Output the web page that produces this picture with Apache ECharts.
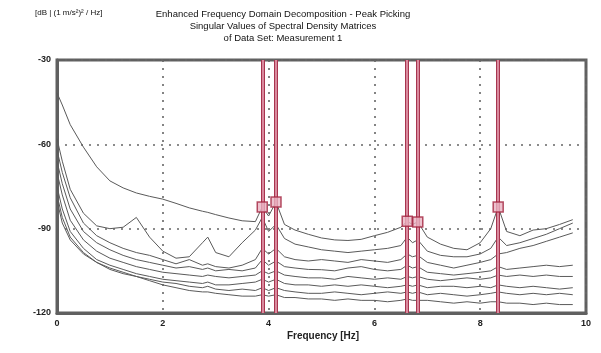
<!DOCTYPE html>
<html>
<head>
<meta charset="utf-8">
<style>
  html, body { margin: 0; padding: 0; background: #fff; }
  #chart { width: 601px; height: 353px; }
</style>
<script src="https://cdn.jsdelivr.net/npm/echarts@6/dist/echarts.min.js"></script>
</head>
<body>
<div id="chart"></div>
<script>
// frequency grid [Hz]
const freq = [0, 0.1, 0.25, 0.5, 0.75, 1, 1.25, 1.5, 1.75, 2, 2.25, 2.5, 2.75, 2.85, 3, 3.25, 3.5, 3.75, 3.88, 4,
  4.14, 4.3, 4.5, 4.75, 5, 5.25, 5.5, 5.75, 6, 6.25, 6.5, 6.62, 6.72, 6.82, 7, 7.25, 7.5, 7.75, 8, 8.2,
  8.34, 8.5, 8.75, 9, 9.25, 9.5, 9.75];

// singular values [dB]
const sv1 = [-41.7, -46, -53, -61, -68, -73, -75.5, -77.3, -78.5, -79.5, -81, -82.6, -83.8, -84.2, -85, -86.2, -87.2, -87.5, -82.3, -85.5,
  -80.5, -88.5, -90.5, -92, -93.3, -94, -94.2, -93.8, -92.5, -91.3, -89.5, -87.4, -88.5, -87.6, -93, -95.5, -97, -97.5, -95, -90,
  -82.3, -91, -92.5, -90.5, -90, -88.5, -86.8];
const sv2 = [-58, -66, -76, -84.5, -89, -90, -89.5, -86, -93, -98, -100.5, -100, -95, -93, -98.5, -100, -95, -90.5, -86, -91,
  -88.5, -93.5, -95.5, -96.5, -97.5, -98, -98.5, -98, -97.5, -97, -96, -93, -95, -94, -98, -99.5, -100, -100, -99, -97,
  -93, -96, -95, -93.5, -92, -90, -88];
const sv3 = [-62, -70, -79, -88, -92.5, -95, -97, -98.5, -99.5, -101, -102.5, -101, -103, -102.5, -103.5, -104, -103, -101, -97, -99,
  -97, -100, -101, -101.5, -101, -101.5, -102, -101, -101.5, -102, -101, -99, -100, -99.5, -102, -103, -104, -103, -102, -101,
  -99, -98.5, -97, -96, -94.5, -93, -91.5];
const sv4 = [-66, -74, -83, -91, -95, -97.5, -99.5, -101, -102, -103, -104, -103.5, -104.5, -104, -105, -104.5, -105, -104, -101, -103,
  -101.5, -103.5, -104, -104.5, -104.6, -105, -104, -103.5, -104.5, -105, -104.5, -103, -104, -103.5, -105.5, -106, -106.5, -106, -105.5, -105,
  -103.5, -104.5, -104, -103.5, -103, -103.5, -103];
const sv5 = [-70, -78, -87, -94, -98, -100.5, -102, -103.5, -104.5, -105.5, -106, -106.5, -107, -106.5, -107, -107.5, -107, -106.5, -105, -106,
  -105, -106.5, -107, -107.5, -107.5, -108, -107, -107.5, -108, -107.5, -108, -107, -107.5, -107, -108, -108.5, -108, -107.5, -108, -107.5,
  -106.5, -107, -106.5, -107, -106.5, -107, -107];
const sv6 = [-75, -83, -91, -97, -101, -103, -104.5, -106, -107, -108, -108.5, -109, -109.5, -109, -110, -110, -109.5, -109, -108, -109,
  -108, -109.5, -110, -110, -110.5, -110, -110.5, -110, -110.5, -111, -110.5, -110, -110.5, -110, -111, -110.5, -110.5, -111, -110.5, -111,
  -110, -110.5, -111, -110.5, -111, -111.5, -111];
const sv7 = [-78, -86, -93, -98.5, -102, -104, -105.5, -107, -108, -109, -109.5, -110.5, -111, -110.5, -111.5, -112, -111.5, -112, -111, -112,
  -111, -112, -112.5, -113, -113, -112.5, -113, -113.5, -113, -112.5, -113, -112.5, -113, -112.5, -113.5, -113, -113.5, -114, -113.5, -113,
  -112.5, -113, -113.5, -113, -113.5, -113, -113.5];
const sv8 = [-80, -88, -94, -99, -102, -104.5, -106, -107, -108.5, -110, -111, -112, -112.5, -112.5, -113, -113.5, -114, -114, -113.5, -114,
  -113.5, -114.5, -114.5, -115, -115, -115.5, -115, -115.5, -115.5, -116, -115.5, -115, -115.5, -115.5, -115.5, -116, -116.5, -116, -116.5, -116,
  -116, -116.5, -116.5, -117, -116.5, -117, -117];

const singularValues = [sv1, sv2, sv3, sv4, sv5, sv6, sv7, sv8];

// picked peaks
const peakFreq = [3.88, 4.14, 6.62, 6.82, 8.34];
const peakDb = [-82.3, -80.5, -87.4, -87.6, -82.3];

const chart = echarts.init(document.getElementById('chart'));

const lineSeries = singularValues.map((sv, k) => ({
  type: 'line',
  name: 'SV' + (k + 1),
  data: freq.map((f, i) => [f, sv[i]]),
  showSymbol: false,
  lineStyle: { color: '#5a5a5a', width: 1 },
  z: 2
}));

chart.setOption({
  animation: false,
  backgroundColor: '#fff',
  textStyle: { fontFamily: 'Liberation Sans, Arial, sans-serif' },
  grid: {
    left: 57, right: 15, top: 60, bottom: 40,
    show: true, borderColor: '#606060', borderWidth: 3
  },
  graphic: [
    {
      type: 'text', left: 35, top: 9,
      style: { text: '[dB | (1 m/s²)² / Hz]', font: '8px Liberation Sans', fill: '#111' }
    },
    {
      type: 'text', x: 283, y: 8,
      style: {
        text: 'Enhanced Frequency Domain Decomposition - Peak Picking\nSingular Values of Spectral Density Matrices\nof Data Set: Measurement 1',
        font: '9.5px Liberation Sans', fill: '#111', align: 'center', lineHeight: 12
      }
    },
    {
      type: 'text', x: 323, y: 331,
      style: { text: 'Frequency [Hz]', font: 'bold 10px Liberation Sans', fill: '#222', align: 'center' }
    }
  ],
  xAxis: {
    type: 'value', min: 0, max: 10, interval: 2,
    axisLine: { show: true, lineStyle: { color: '#606060', width: 3 } },
    axisTick: { show: false },
    axisLabel: { color: '#222', fontSize: 9, fontWeight: 'bold', margin: 6 },
    splitLine: { show: true, lineStyle: { color: '#666', width: 1.6, type: [2, 6] } }
  },
  yAxis: {
    type: 'value', min: -120, max: -30, interval: 30,
    axisLine: { show: true, lineStyle: { color: '#606060', width: 3 } },
    axisTick: { show: false },
    axisLabel: { color: '#222', fontSize: 9, fontWeight: 'bold', margin: 6 },
    splitLine: { show: true, lineStyle: { color: '#666', width: 1.6, type: [2, 6] } }
  },
  series: [
    ...lineSeries,
    {
      type: 'scatter',
      name: 'peaks',
      data: peakFreq.map((f, i) => [f, peakDb[i]]),
      symbol: 'rect',
      symbolSize: 10,
      itemStyle: { color: '#e9b3c2', borderColor: '#a3233f', borderWidth: 1.5 },
      z: 5,
      markLine: {
        silent: true,
        symbol: 'none',
        label: { show: false },
        lineStyle: { color: '#a8354f', width: 4, type: 'solid' },
        data: peakFreq.map(f => ({ xAxis: f }))
      }
    },
    {
      type: 'line',
      name: 'peakLinesInner',
      data: [],
      markLine: {
        silent: true,
        symbol: 'none',
        label: { show: false },
        lineStyle: { color: '#eaa7b8', width: 1.5, type: 'solid' },
        data: peakFreq.map(f => ({ xAxis: f }))
      },
      z: 4
    }
  ]
});
</script>
</body>
</html>
